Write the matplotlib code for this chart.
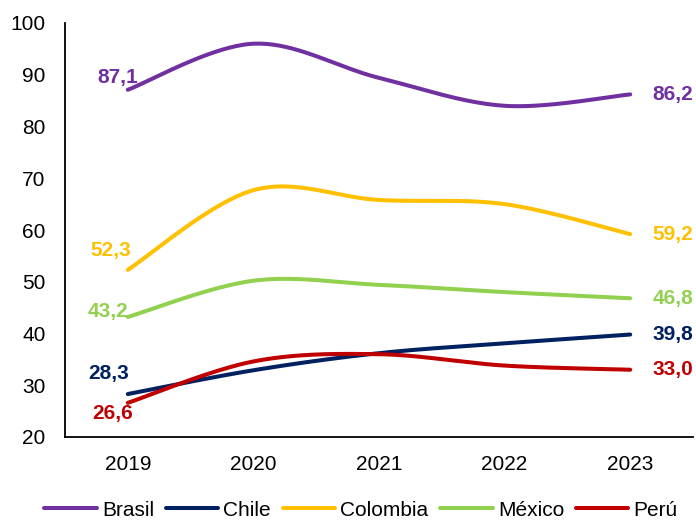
import numpy as np
import matplotlib.pyplot as plt

plt.rcParams['font.family'] = ['Liberation Sans', 'DejaVu Sans']

years = ["2019", "2020", "2021", "2022", "2023"]
brasil = [87.1, 96.0, 89.4, 84.0, 86.2]
chile = [28.3, 32.9, 36.2, 38.1, 39.8]
colombia = [52.3, 67.7, 65.8, 65.0, 59.2]
mexico = [43.2, 50.2, 49.4, 48.0, 46.8]
peru = [26.6, 34.6, 36.0, 33.8, 33.0]

series = [
    ("Brasil", brasil, "#7030A0"),
    ("Chile", chile, "#002060"),
    ("Colombia", colombia, "#FFC000"),
    ("México", mexico, "#92D050"),
    ("Perú", peru, "#C00000"),
]

# offsets (points) for the first-year labels
first_offsets = {
    "Brasil": (-7, 9),
    "Chile": (-14, 15),
    "Colombia": (-12, 14),
    "México": (-14, 4),
    "Perú": (-11, -8),
}


def smooth(xs, ys, n=40):
    # Catmull-Rom style bezier smoothing between consecutive points
    pts = np.column_stack([xs, ys]).astype(float)
    out = [pts[0]]
    for i in range(len(pts) - 1):
        p0 = pts[i - 1] if i > 0 else pts[i]
        p1, p2 = pts[i], pts[i + 1]
        p3 = pts[i + 2] if i + 2 < len(pts) else pts[i + 1]
        c1 = p1 + (p2 - p0) / 6
        c2 = p2 - (p3 - p1) / 6
        t = np.linspace(0, 1, n)[1:, None]
        seg = ((1 - t) ** 3) * p1 + 3 * ((1 - t) ** 2) * t * c1 \
            + 3 * (1 - t) * t ** 2 * c2 + t ** 3 * p2
        out.extend(seg)
    out = np.array(out)
    return out[:, 0], out[:, 1]


def fmt(v):
    return f"{v:.1f}".replace(".", ",")


fig = plt.figure(figsize=(6.96, 5.2), dpi=100)
ax = fig.add_axes([65 / 696, 1 - 437 / 520, 628 / 696, 414 / 520])

x = np.arange(len(years))
for name, vals, color in series:
    sx, sy = smooth(x, vals)
    ax.plot(sx, sy, color=color, lw=2.9, label=name, solid_capstyle='round')
    dx, dy = first_offsets[name]
    ax.annotate(fmt(vals[0]), (x[0], vals[0]), xytext=(dx, dy),
                textcoords='offset points', ha='center', va='center',
                color=color, fontsize=15, fontweight='bold')
    ax.annotate(fmt(vals[-1]), (x[-1], vals[-1]), xytext=(16, 0),
                textcoords='offset points', ha='left', va='center',
                color=color, fontsize=15, fontweight='bold')

ax.set_xlim(-0.5, len(years) - 0.5)
ax.set_ylim(20, 100)
ax.set_yticks(range(20, 101, 10))
ax.set_xticks(x)
ax.set_xticklabels(years)
ax.tick_params(axis='both', length=0, colors='black')
ax.tick_params(axis='x', pad=13, labelsize=15)
ax.tick_params(axis='y', pad=14, labelsize=15)
for s in ['top', 'right']:
    ax.spines[s].set_visible(False)
for s in ['left', 'bottom']:
    ax.spines[s].set_linewidth(1.3)
    ax.spines[s].set_color('black')

fig.legend(loc='center', bbox_to_anchor=(361 / 696, 1 - 510 / 520), ncol=5,
           frameon=False, fontsize=15, handlelength=2.5, handletextpad=0.25,
           columnspacing=0.58, borderpad=0)

fig.savefig("out.png", dpi=100)
